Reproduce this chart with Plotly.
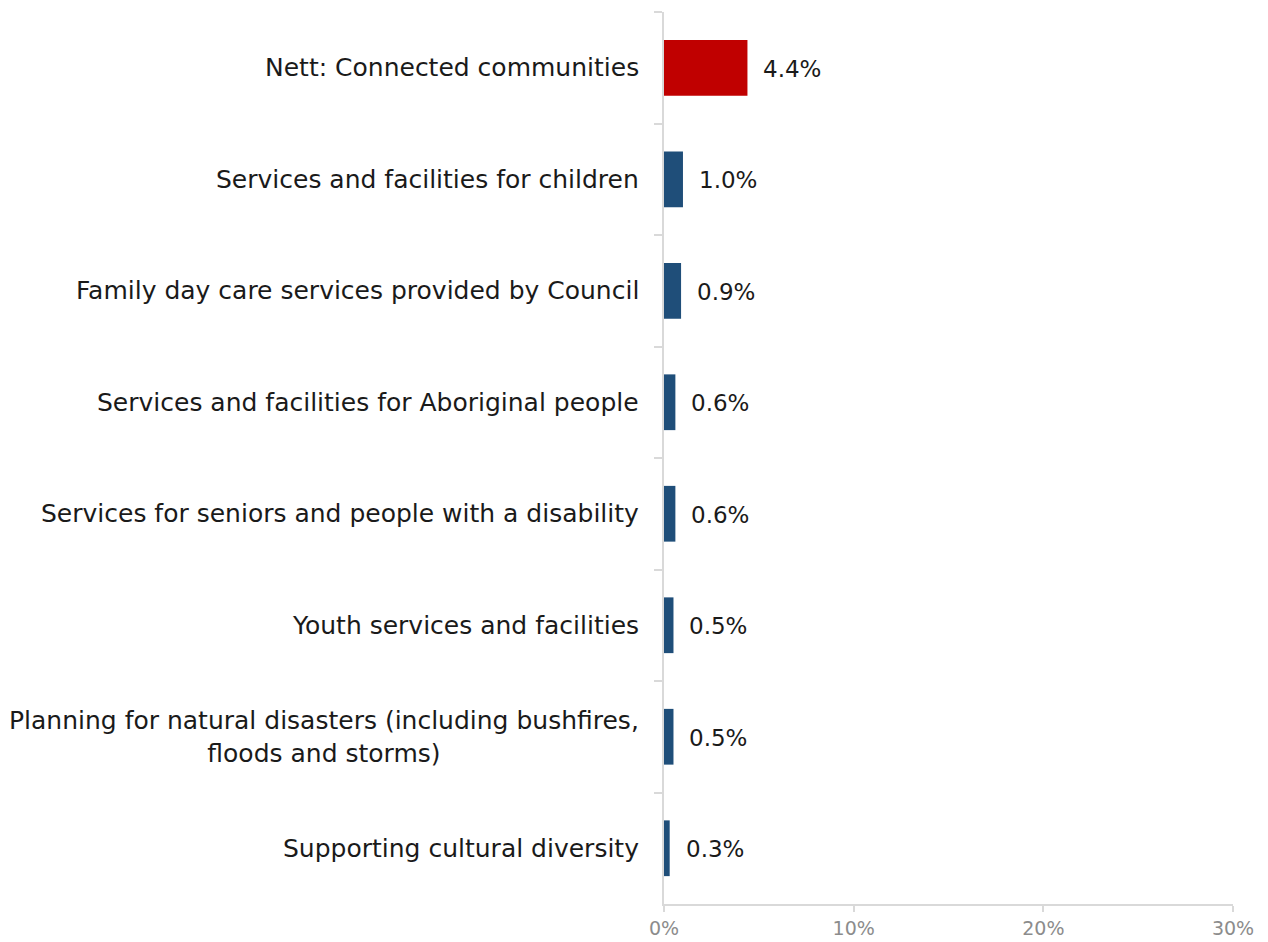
import plotly.graph_objects as go

# Survey results: share of responses per community topic
categories = [
    "Nett: Connected communities",
    "Services and facilities for children",
    "Family day care services provided by Council",
    "Services and facilities for Aboriginal people",
    "Services for seniors and people with a disability",
    "Youth services and facilities",
    "Planning for natural disasters (including bushfires,<br>floods and storms)",
    "Supporting cultural diversity",
]
values = [4.4, 1.0, 0.9, 0.6, 0.6, 0.5, 0.5, 0.3]
bar_colors = ["#C00000"] + ["#1F4E79"] * 7
x_tickvals = [0, 10, 20, 30]
x_ticktext = ["0%", "10%", "20%", "30%"]

FONT = "'DejaVu Sans', sans-serif"
TEXT_COLOR = "#1a1a1a"
AXIS_COLOR = "#d9d9d9"

fig = go.Figure(
    go.Bar(
        y=categories,
        x=values,
        orientation="h",
        marker=dict(color=bar_colors, line=dict(width=0)),
        width=0.5,
        hoverinfo="skip",
    )
)

# value labels to the right of each bar
for cat, val in zip(categories, values):
    fig.add_annotation(
        x=val, y=cat, xref="x", yref="y",
        text=f"{val:.1f}%", showarrow=False,
        xanchor="left", yanchor="middle", xshift=14, yshift=-1,
        font=dict(family=FONT, size=23, color=TEXT_COLOR),
    )

# category labels, centred line by line, right-aligned to the axis
for cat in categories:
    fig.add_annotation(
        x=0, y=cat, xref="paper", yref="y",
        text=cat, showarrow=False,
        xanchor="right", yanchor="middle", xshift=-23,
        align="center",
        font=dict(family=FONT, size=25, color=TEXT_COLOR),
    )

fig.update_layout(
    width=1268, height=942,
    margin=dict(l=664, r=35, t=12, b=38, autoexpand=False),
    paper_bgcolor="white", plot_bgcolor="white",
    showlegend=False,
    bargap=0.5,
)
fig.update_xaxes(
    range=[0, 30], tickvals=x_tickvals, ticktext=x_ticktext,
    automargin=False,
    showgrid=False, zeroline=False,
    showline=True, linecolor=AXIS_COLOR, linewidth=2,
    ticks="outside", ticklen=6, tickcolor=AXIS_COLOR, tickwidth=2,
    tickfont=dict(family=FONT, size=19, color="#8c8c8c"),
)
fig.update_yaxes(
    categoryorder="array", categoryarray=categories,
    autorange="reversed", automargin=False,
    showticklabels=False,
    showgrid=False, zeroline=False,
    showline=True, linecolor=AXIS_COLOR, linewidth=2,
    ticks="outside", tickson="boundaries", ticklen=8,
    tickcolor=AXIS_COLOR, tickwidth=2,
)

fig.write_html("out.html")
